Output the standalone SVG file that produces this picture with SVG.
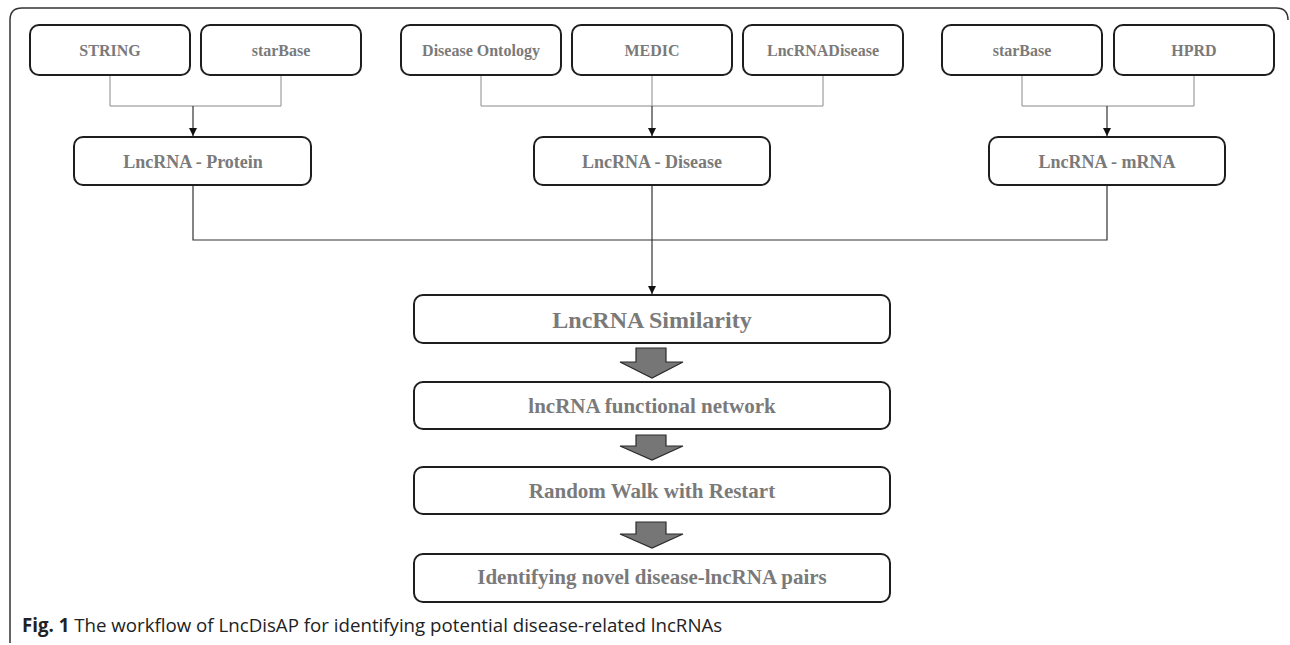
<svg xmlns="http://www.w3.org/2000/svg" width="1290" height="645" viewBox="0 0 1290 645">
<style>
.box{fill:#fff;stroke:#1e1e1e;stroke-width:2}
.t{font-family:"Liberation Serif",serif;font-weight:bold;fill:#7a7a7a;text-anchor:middle}
.s16{font-size:16px}
.s18{font-size:18px}
.s21{font-size:21px}
.s24{font-size:24px}
.br{fill:none;stroke:#8a8a8a;stroke-width:1}
.ln{fill:none;stroke:#333;stroke-width:1.2}
.fat{fill:#767676;stroke:#2a2a2a;stroke-width:1.2}
</style>
<defs>
<marker id="ah" viewBox="0 0 10 10" refX="10" refY="5" markerWidth="8" markerHeight="8" markerUnits="userSpaceOnUse" orient="auto">
<path d="M0,0 L10,5 L0,10 z" fill="#111"/>
</marker>
</defs>
<rect width="1290" height="645" fill="#fff"/>
<path d="M10,643 V20 Q10,8 22,8 H1276 Q1288,8 1288,20" fill="none" stroke="#333" stroke-width="1.5"/>

<g id="connectors">
<path class="br" d="M110,76 V106 H281 V76"/>
<path class="br" d="M481,76 V106 H823 V76"/>
<path class="br" d="M652,76 V106"/>
<path class="br" d="M1022,76 V106 H1194 V76"/>
<path class="ln" d="M193,106 V136" marker-end="url(#ah)"/>
<path class="ln" d="M652,106 V136" marker-end="url(#ah)"/>
<path class="ln" d="M1107,106 V136" marker-end="url(#ah)"/>
<path class="ln" d="M193,186 V240 H1107 V186"/>
<path class="ln" d="M652,186 V294" marker-end="url(#ah)"/>
<path class="fat" d="M636,348 H666 V362 H683 L652,378 L620,362 H636 Z"/>
<path class="fat" d="M636,435 H666 V446 H683 L652,460 L620,446 H636 Z"/>
<path class="fat" d="M636,522 H666 V534 H683 L652,548 L620,534 H636 Z"/>
</g>

<g id="n-string"><rect class="box" x="30" y="25" width="160" height="50" rx="9"/><text class="t s16" x="110" y="56">STRING</text></g>
<g id="n-starbase1"><rect class="box" x="201" y="25" width="160" height="50" rx="9"/><text class="t s16" x="281" y="56">starBase</text></g>
<g id="n-do"><rect class="box" x="401" y="25" width="160" height="50" rx="9"/><text class="t s16" x="481" y="56">Disease Ontology</text></g>
<g id="n-medic"><rect class="box" x="572" y="25" width="160" height="50" rx="9"/><text class="t s16" x="652" y="56">MEDIC</text></g>
<g id="n-lncrnadisease"><rect class="box" x="743" y="25" width="160" height="50" rx="9"/><text class="t s16" x="823" y="56">LncRNADisease</text></g>
<g id="n-starbase2"><rect class="box" x="942" y="25" width="160" height="50" rx="9"/><text class="t s16" x="1022" y="56">starBase</text></g>
<g id="n-hprd"><rect class="box" x="1114" y="25" width="160" height="50" rx="9"/><text class="t s16" x="1194" y="56">HPRD</text></g>

<g id="n-protein"><rect class="box" x="74" y="137" width="237" height="48" rx="9"/><text class="t s18" x="193" y="168">LncRNA - Protein</text></g>
<g id="n-disease"><rect class="box" x="534" y="137" width="236" height="48" rx="9"/><text class="t s18" x="652" y="168">LncRNA - Disease</text></g>
<g id="n-mrna"><rect class="box" x="989" y="137" width="236" height="48" rx="9"/><text class="t s18" x="1107" y="168">LncRNA - mRNA</text></g>

<g id="n-similarity"><rect class="box" x="414" y="295" width="476" height="48" rx="9"/><text class="t s24" x="652" y="328">LncRNA Similarity</text></g>
<g id="n-network"><rect class="box" x="414" y="382" width="476" height="47" rx="9"/><text class="t s21" x="652" y="413">lncRNA functional network</text></g>
<g id="n-rwr"><rect class="box" x="414" y="467" width="476" height="47" rx="9"/><text class="t s21" x="652" y="498">Random Walk with Restart</text></g>
<g id="n-identify"><rect class="box" x="414" y="554" width="476" height="48" rx="9"/><text class="t s21" x="652" y="584">Identifying novel disease-lncRNA pairs</text></g>

<text x="22" y="632" font-family="'Open Sans','Noto Sans',sans-serif" font-size="18.7" fill="#222"><tspan font-weight="bold">Fig. 1</tspan> The workflow of LncDisAP for identifying potential disease-related lncRNAs</text>
</svg>
